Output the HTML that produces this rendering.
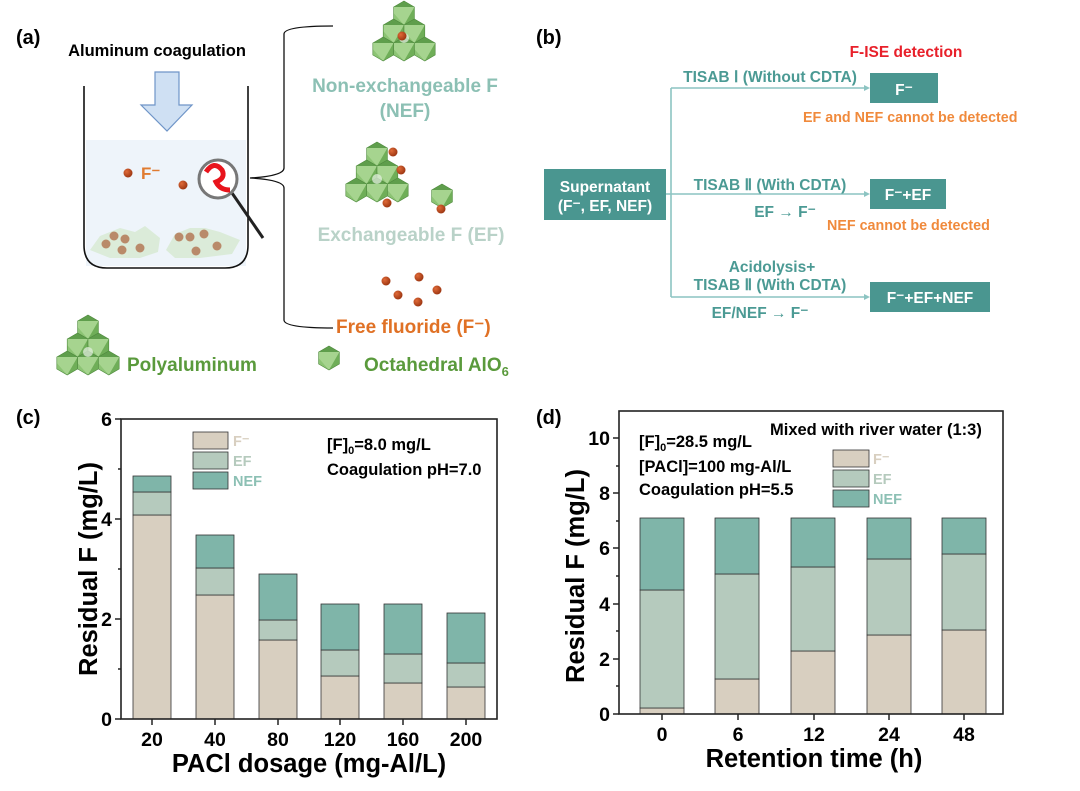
<!DOCTYPE html>
<html><head><meta charset="utf-8"><style>
html,body{margin:0;padding:0;background:#fff}
svg{display:block;font-family:"Liberation Sans",Arial,sans-serif}
</style></head><body>
<svg width="1080" height="791" viewBox="0 0 1080 791" xmlns="http://www.w3.org/2000/svg">
<defs>
<g id="oct">
<polygon points="0,-12 10.4,-6 10.4,6 0,12 -10.4,6 -10.4,-6" fill="#a6d48f"/>
<polygon points="0,-12 10.4,-6 -10.4,-6" fill="#5f9e4c"/>
<polygon points="10.4,-6 10.4,6 0,12" fill="#6fae58"/>
<polygon points="-10.4,6 0,12 -10.4,0" fill="#8cc474"/>
<polygon points="0,-12 10.4,-6 10.4,6 0,12 -10.4,6 -10.4,-6" fill="none" stroke="#4f8a3e" stroke-width="0.6"/>
</g>
<g id="cl">
<use href="#oct" x="0" y="-19"/>
<use href="#oct" x="-10.4" y="-1"/>
<use href="#oct" x="10.4" y="-1"/>
<use href="#oct" x="-20.8" y="17"/>
<use href="#oct" x="0" y="17"/>
<use href="#oct" x="20.8" y="17"/>
<circle cx="0" cy="6" r="5" fill="#fff" opacity="0.6"/>
</g>
<radialGradient id="ball" cx="0.35" cy="0.35" r="0.7"><stop offset="0" stop-color="#e06a38"/><stop offset="1" stop-color="#9a3410"/></radialGradient>
</defs>

<!-- Panel a -->
<text x="16" y="44" font-size="20" font-weight="bold">(a)</text>
<text x="157" y="56" font-size="16.5" font-weight="bold" text-anchor="middle">Aluminum coagulation</text>
<rect x="86" y="140" width="160" height="126" fill="#eef4fa"/>
<path d="M84,86 V245 Q84,268 107,268 H225 Q248,268 248,245 V86" fill="none" stroke="#111" stroke-width="1.6"/>
<polygon points="155,72 179,72 179,105 192,105 167,131 141,105 155,105" fill="#cfe0f3" stroke="#6f95c8" stroke-width="1.2"/>
<g fill="#d9ebd6" opacity="0.9">
<polygon points="90,250 100,236 110,232 120,228 135,232 145,226 160,238 158,252 140,258 110,258"/>
<polygon points="166,250 175,234 190,228 205,228 220,232 240,240 232,254 200,258 175,258"/>
</g>
<g fill="#b98a6a"><circle cx="114" cy="236" r="4.5"/><circle cx="125" cy="239" r="4.5"/><circle cx="106" cy="244" r="4.5"/><circle cx="122" cy="250" r="4.5"/><circle cx="140" cy="248" r="4.5"/><circle cx="179" cy="237" r="4.5"/><circle cx="190" cy="237" r="4.5"/><circle cx="204" cy="234" r="4.5"/><circle cx="196" cy="251" r="4.5"/><circle cx="217" cy="246" r="4.5"/></g>
<circle cx="128" cy="173" r="4.5" fill="url(#ball)"/>
<text x="141" y="179" font-size="17" font-weight="bold" fill="#e07b30">F⁻</text>
<circle cx="183" cy="185" r="4.5" fill="url(#ball)"/>
<line x1="232" y1="193" x2="263" y2="238" stroke="#222" stroke-width="3"/>
<circle cx="218" cy="179" r="19" fill="#fff" stroke="#777" stroke-width="3"/>
<path d="M206,172 q8,-12 16,-2 q4,8 -6,12 q4,8 14,8" fill="none" stroke="#e8141c" stroke-width="5"/>
<path d="M333,26 Q284,26 284,34 V168 Q284,176 250,178 Q284,180 284,188 V320 Q284,328 333,328" fill="none" stroke="#111" stroke-width="1.3"/>
<use href="#cl" x="404" y="32"/>
<circle cx="402" cy="36" r="4.5" fill="url(#ball)"/>
<text x="405" y="92" font-size="19" font-weight="bold" fill="#8cc0b4" text-anchor="middle">Non-exchangeable F</text>
<text x="405" y="117" font-size="19" font-weight="bold" fill="#8cc0b4" text-anchor="middle">(NEF)</text>
<use href="#cl" x="377" y="173"/>
<use href="#oct" x="442" y="196"/>
<circle cx="393" cy="152" r="4.5" fill="url(#ball)"/><circle cx="401" cy="170" r="4.5" fill="url(#ball)"/><circle cx="387" cy="203" r="4.5" fill="url(#ball)"/><circle cx="441" cy="209" r="4.5" fill="url(#ball)"/>
<text x="411" y="241" font-size="19" font-weight="bold" fill="#b9d2c8" text-anchor="middle">Exchangeable F (EF)</text>
<g fill="url(#ball)"><circle cx="386" cy="281" r="4.5"/><circle cx="419" cy="277" r="4.5"/><circle cx="437" cy="290" r="4.5"/><circle cx="398" cy="295" r="4.5"/><circle cx="418" cy="302" r="4.5"/></g>
<text x="336" y="333" font-size="19" font-weight="bold" fill="#e07125">Free fluoride (F⁻)</text>
<use href="#cl" x="88" y="346"/>
<text x="127" y="371" font-size="19" font-weight="bold" fill="#5a9a3c">Polyaluminum</text>
<use href="#oct" x="329" y="358"/>
<text x="364" y="371" font-size="19" font-weight="bold" fill="#5a9a3c">Octahedral AlO<tspan font-size="13" dy="5">6</tspan></text>

<!-- Panel b -->
<text x="536" y="44" font-size="20" font-weight="bold">(b)</text>
<text x="906" y="57" font-size="15.5" font-weight="bold" fill="#e8202a" text-anchor="middle">F-ISE detection</text>
<g stroke="#8cc4c2" stroke-width="1.6" fill="none"><line x1="671" y1="88" x2="671" y2="297"/><line x1="671" y1="88" x2="868" y2="88"/><line x1="666" y1="194" x2="868" y2="194"/><line x1="671" y1="297" x2="868" y2="297"/></g>
<g fill="#8cc4c2"><polygon points="870,88 864,85 864,91"/><polygon points="870,194 864,191 864,197"/><polygon points="870,297 864,294 864,300"/></g>
<g fill="#4a9690"><rect x="544" y="169" width="122" height="51"/><rect x="870" y="73" width="68" height="30"/><rect x="870" y="179" width="76" height="30"/><rect x="870" y="282" width="120" height="30"/></g>
<g fill="#fff" font-size="15.5" font-weight="bold" text-anchor="middle"><text x="605" y="192">Supernatant</text><text x="605" y="211">(F⁻, EF, NEF)</text><text x="904" y="95">F⁻</text><text x="908" y="200">F⁻+EF</text><text x="930" y="303">F⁻+EF+NEF</text></g>
<g fill="#4b9a94" font-size="15.5" font-weight="bold" text-anchor="middle"><text x="770" y="82">TISAB Ⅰ (Without CDTA)</text><text x="770" y="190">TISAB Ⅱ (With CDTA)</text><text x="785" y="217">EF → F⁻</text><text x="772" y="272">Acidolysis+</text><text x="770" y="290">TISAB Ⅱ (With CDTA)</text><text x="760" y="318">EF/NEF → F⁻</text></g>
<g fill="#f08a3c" font-size="14.3" font-weight="bold"><text x="803" y="122">EF and NEF cannot be detected</text><text x="827" y="230">NEF cannot be detected</text></g>

<!-- Panel c -->
<text x="16" y="424" font-size="20" font-weight="bold">(c)</text>
<g stroke="#333" stroke-width="0.8">
<rect x="133" y="515" width="38" height="204" fill="#d8cfc0"/><rect x="133" y="492" width="38" height="23" fill="#b5cabd"/><rect x="133" y="476" width="38" height="16" fill="#7fb5a9"/>
<rect x="196" y="595" width="38" height="124" fill="#d8cfc0"/><rect x="196" y="568" width="38" height="27" fill="#b5cabd"/><rect x="196" y="535" width="38" height="33" fill="#7fb5a9"/>
<rect x="259" y="640" width="38" height="79" fill="#d8cfc0"/><rect x="259" y="620" width="38" height="20" fill="#b5cabd"/><rect x="259" y="574" width="38" height="46" fill="#7fb5a9"/>
<rect x="321" y="676" width="38" height="43" fill="#d8cfc0"/><rect x="321" y="650" width="38" height="26" fill="#b5cabd"/><rect x="321" y="604" width="38" height="46" fill="#7fb5a9"/>
<rect x="384" y="683" width="38" height="36" fill="#d8cfc0"/><rect x="384" y="654" width="38" height="29" fill="#b5cabd"/><rect x="384" y="604" width="38" height="50" fill="#7fb5a9"/>
<rect x="447" y="687" width="38" height="32" fill="#d8cfc0"/><rect x="447" y="663" width="38" height="24" fill="#b5cabd"/><rect x="447" y="613" width="38" height="50" fill="#7fb5a9"/>
<rect x="193" y="432" width="35" height="17" fill="#d8cfc0"/><rect x="193" y="452" width="35" height="17" fill="#b5cabd"/><rect x="193" y="472" width="35" height="17" fill="#7fb5a9"/>
</g>
<rect x="121" y="419" width="376" height="300" fill="none" stroke="#222" stroke-width="1.6"/>
<g stroke="#222" stroke-width="1.5"><line x1="115" y1="419" x2="121" y2="419"/><line x1="115" y1="519" x2="121" y2="519"/><line x1="115" y1="619" x2="121" y2="619"/><line x1="115" y1="719" x2="121" y2="719"/><line x1="118" y1="469" x2="121" y2="469"/><line x1="118" y1="569" x2="121" y2="569"/><line x1="118" y1="669" x2="121" y2="669"/>
<line x1="152" y1="719" x2="152" y2="725"/><line x1="215" y1="719" x2="215" y2="725"/><line x1="278" y1="719" x2="278" y2="725"/><line x1="340" y1="719" x2="340" y2="725"/><line x1="403" y1="719" x2="403" y2="725"/><line x1="466" y1="719" x2="466" y2="725"/></g>
<g font-size="19.5" font-weight="bold" text-anchor="end"><text x="112" y="426">6</text><text x="112" y="526">4</text><text x="112" y="626">2</text><text x="112" y="726">0</text></g>
<g font-size="19.5" font-weight="bold" text-anchor="middle"><text x="152" y="746">20</text><text x="215" y="746">40</text><text x="278" y="746">80</text><text x="340" y="746">120</text><text x="403" y="746">160</text><text x="466" y="746">200</text></g>
<text x="309" y="772" font-size="25.5" font-weight="bold" text-anchor="middle">PACl dosage (mg-Al/L)</text>
<text transform="translate(97,569) rotate(-90)" font-size="25.5" font-weight="bold" text-anchor="middle">Residual F (mg/L)</text>
<g font-size="14.5" font-weight="bold"><text x="233" y="446" fill="#d8cfc0">F⁻</text><text x="233" y="466" fill="#b5cabd">EF</text><text x="233" y="486" fill="#8cc0b4">NEF</text></g>
<g font-size="16.5" font-weight="bold"><text x="327" y="450">[F]<tspan font-size="11" dy="4">0</tspan><tspan dy="-4">=8.0 mg/L</tspan></text><text x="327" y="475">Coagulation pH=7.0</text></g>

<!-- Panel d -->
<text x="536" y="424" font-size="20" font-weight="bold">(d)</text>
<g stroke="#333" stroke-width="0.8">
<rect x="640" y="708" width="44" height="6" fill="#d8cfc0"/><rect x="640" y="590" width="44" height="118" fill="#b5cabd"/><rect x="640" y="518" width="44" height="72" fill="#7fb5a9"/>
<rect x="715" y="679" width="44" height="35" fill="#d8cfc0"/><rect x="715" y="574" width="44" height="105" fill="#b5cabd"/><rect x="715" y="518" width="44" height="56" fill="#7fb5a9"/>
<rect x="791" y="651" width="44" height="63" fill="#d8cfc0"/><rect x="791" y="567" width="44" height="84" fill="#b5cabd"/><rect x="791" y="518" width="44" height="49" fill="#7fb5a9"/>
<rect x="867" y="635" width="44" height="79" fill="#d8cfc0"/><rect x="867" y="559" width="44" height="76" fill="#b5cabd"/><rect x="867" y="518" width="44" height="41" fill="#7fb5a9"/>
<rect x="942" y="630" width="44" height="84" fill="#d8cfc0"/><rect x="942" y="554" width="44" height="76" fill="#b5cabd"/><rect x="942" y="518" width="44" height="36" fill="#7fb5a9"/>
<rect x="833" y="450" width="36" height="17" fill="#d8cfc0"/><rect x="833" y="470" width="36" height="17" fill="#b5cabd"/><rect x="833" y="490" width="36" height="17" fill="#7fb5a9"/>
</g>
<rect x="619" y="411" width="384" height="303" fill="none" stroke="#222" stroke-width="1.6"/>
<g stroke="#222" stroke-width="1.5"><line x1="613" y1="438" x2="619" y2="438"/><line x1="613" y1="493" x2="619" y2="493"/><line x1="613" y1="548" x2="619" y2="548"/><line x1="613" y1="604" x2="619" y2="604"/><line x1="613" y1="659" x2="619" y2="659"/><line x1="613" y1="714" x2="619" y2="714"/><line x1="616" y1="466" x2="619" y2="466"/><line x1="616" y1="521" x2="619" y2="521"/><line x1="616" y1="576" x2="619" y2="576"/><line x1="616" y1="631" x2="619" y2="631"/><line x1="616" y1="686" x2="619" y2="686"/>
<line x1="662" y1="714" x2="662" y2="720"/><line x1="738" y1="714" x2="738" y2="720"/><line x1="814" y1="714" x2="814" y2="720"/><line x1="889" y1="714" x2="889" y2="720"/><line x1="964" y1="714" x2="964" y2="720"/></g>
<g font-size="19.5" font-weight="bold" text-anchor="end"><text x="610" y="445">10</text><text x="610" y="500">8</text><text x="610" y="555">6</text><text x="610" y="611">4</text><text x="610" y="666">2</text><text x="610" y="721">0</text></g>
<g font-size="19.5" font-weight="bold" text-anchor="middle"><text x="662" y="741">0</text><text x="738" y="741">6</text><text x="814" y="741">12</text><text x="889" y="741">24</text><text x="964" y="741">48</text></g>
<text x="814" y="767" font-size="25.5" font-weight="bold" text-anchor="middle">Retention time (h)</text>
<text transform="translate(584,576) rotate(-90)" font-size="25.5" font-weight="bold" text-anchor="middle">Residual F (mg/L)</text>
<g font-size="14.5" font-weight="bold"><text x="873" y="464" fill="#d8cfc0">F⁻</text><text x="873" y="484" fill="#b5cabd">EF</text><text x="873" y="504" fill="#8cc0b4">NEF</text></g>
<g font-size="16.5" font-weight="bold"><text x="770" y="435">Mixed with river water (1:3)</text><text x="639" y="447">[F]<tspan font-size="11" dy="4">0</tspan><tspan dy="-4">=28.5 mg/L</tspan></text><text x="639" y="472">[PACl]=100 mg-Al/L</text><text x="639" y="495">Coagulation pH=5.5</text></g>
</svg>
</body></html>
